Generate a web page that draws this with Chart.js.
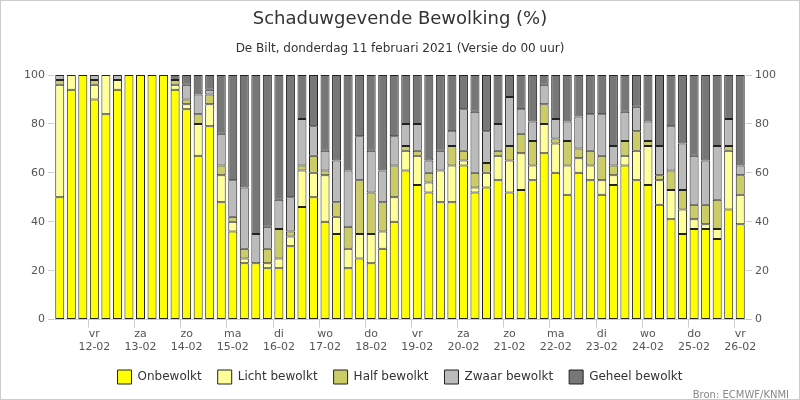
<!DOCTYPE html>
<html>
<head>
<meta charset="utf-8">
<script src="https://cdn.jsdelivr.net/npm/chart.js@4/dist/chart.umd.min.js"></script>
<style>
  body { margin: 0; background: #fff; }
  #wrap { width: 798px; height: 398px; border: 1px solid #ccc; position: relative; }
</style>
</head>
<body>
<div id="wrap"><canvas id="myChart"></canvas></div>
<script>
// 6-uurlijkse waarden, 60 staven
const dayLabels = ['vr','za','zo','ma','di','wo','do','vr','za','zo','ma','di','wo','do','vr'];
const dateLabels = ['12-02','13-02','14-02','15-02','16-02','17-02','18-02','19-02','20-02','21-02','22-02','23-02','24-02','25-02','26-02'];

const onbewolkt = [50,94,100,90,84,94,100,100,100,100,94,86,67,79,48,
  36,23,23,21,21,30,46,50,40,35,21,25,23,29,40,
  61,55,52,48,48,63,52,54,57,52,53,57,68,60,51,
  60,57,51,55,63,57,55,47,41,35,37,37,33,45,39];
const lichtBewolkt = [46,6,0,6,16,4,0,0,0,0,2,2,13,9,11,
  4,2,0,2,4,4,15,10,19,7,8,10,12,7,10,
  8,12,4,13,15,2,2,6,10,13,15,6,12,12,12,
  6,6,6,4,4,12,16,10,12,10,4,2,4,24,12];
const halfBewolkt = [2,0,0,2,0,0,0,0,0,0,2,2,4,4,4,
  2,4,0,6,12,2,2,7,2,6,9,22,17,12,13,
  2,2,4,0,8,4,6,4,2,6,8,10,8,2,10,
  4,6,10,4,6,8,2,2,8,8,6,8,12,2,8];
const zwaarBewolkt = [2,0,0,2,0,2,0,0,0,0,0,6,8,2,13,
  15,25,12,9,12,14,19,12,8,17,23,18,17,13,12,
  9,11,5,8,6,17,25,13,11,20,10,8,8,8,8,
  13,15,17,8,12,10,8,12,18,19,20,18,22,11,4];
const geheelBewolkt = [0,0,0,0,0,0,0,0,0,0,2,4,8,6,24,
  43,46,65,62,51,50,18,21,31,35,39,25,31,39,25,
  20,20,35,31,23,14,15,23,20,9,14,19,4,18,19,
  17,16,16,29,15,13,19,29,21,28,33,35,29,18,37];
const yTicks = [0,20,40,60,80,100];

const labels = onbewolkt.map((v, i) => (i % 4 === 3) ? [dayLabels[(i - 3) / 4], dateLabels[(i - 3) / 4]] : '');

function ds(label, data, color){
  return { label: label, data: data, backgroundColor: color, borderColor: '#222',
    borderWidth: 1, borderSkipped: false, barPercentage: 0.78, categoryPercentage: 1 };
}

const bron = {
  id: 'bron',
  afterDraw(chart){
    const c = chart.ctx;
    c.save();
    c.font = '10px "DejaVu Sans"';
    c.fillStyle = '#888';
    c.textAlign = 'right';
    c.fillText('Bron: ECMWF/KNMI', 788, 394);
    c.restore();
  }
};

const axisFont = { family: 'DejaVu Sans', size: 11 };
const ctx = document.getElementById('myChart').getContext('2d');
const myChart = new Chart(ctx, {
  type: 'bar',
  data: {
    labels: labels,
    datasets: [
      ds('Onbewolkt', onbewolkt, '#ffff00'),
      ds('Licht bewolkt', lichtBewolkt, '#ffff99'),
      ds('Half bewolkt', halfBewolkt, '#cccc66'),
      ds('Zwaar bewolkt', zwaarBewolkt, '#bbbbbb'),
      ds('Geheel bewolkt', geheelBewolkt, '#777777')
    ]
  },
  options: {
    responsive: true,
    maintainAspectRatio: false,
    animation: false,
    layout: { padding: { left: 20, right: 20, top: 4, bottom: 5 } },
    plugins: {
      title: { display: true, text: 'Schaduwgevende Bewolking (%)', color: '#333',
        font: { family: 'DejaVu Sans', size: 18, weight: 'normal' }, padding: { top: 4, bottom: 11 } },
      subtitle: { display: true, text: 'De Bilt, donderdag 11 februari 2021 (Versie do 00 uur)', color: '#333',
        font: { family: 'DejaVu Sans', size: 12 }, padding: { bottom: 19 } },
      legend: { position: 'bottom', labels: { boxWidth: 14, boxHeight: 14, padding: 16, color: '#333',
        font: { family: 'DejaVu Sans', size: 12 } } },
      tooltip: { enabled: false }
    },
    scales: {
      x: {
        stacked: true,
        grid: { drawOnChartArea: false, drawTicks: true, tickLength: 8,
          color: c => (c.index % 4 === 3) ? '#ccc' : 'rgba(0,0,0,0)' },
        border: { color: '#ccc' },
        ticks: { autoSkip: false, maxRotation: 0, color: '#555', font: axisFont, padding: 0 }
      },
      y: {
        stacked: true, min: 0, max: 100,
        afterBuildTicks: a => { a.ticks = yTicks.map(v => ({ value: v })); },
        grid: { drawOnChartArea: false, tickLength: 6, color: '#ccc' },
        border: { display: false },
        ticks: { color: '#555', font: axisFont }
      },
      y2: {
        position: 'right', min: 0, max: 100,
        afterBuildTicks: a => { a.ticks = yTicks.map(v => ({ value: v })); },
        grid: { drawOnChartArea: false, tickLength: 6, color: '#ccc' },
        border: { display: false },
        ticks: { color: '#555', font: axisFont }
      }
    }
  },
  plugins: [bron]
});
</script>
</body>
</html>
